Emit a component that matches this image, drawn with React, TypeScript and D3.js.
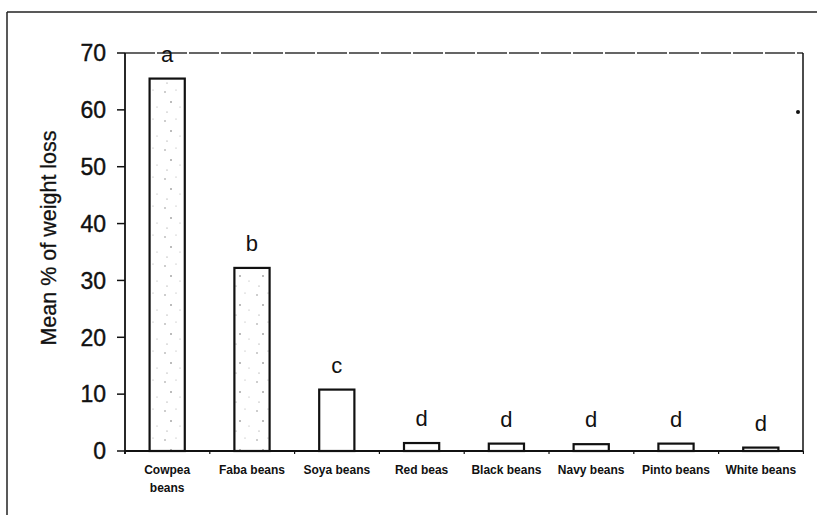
import React from 'react';
import * as d3 from 'd3';

const categories = ['Cowpea beans', 'Faba beans', 'Soya beans', 'Red beas', 'Black beans', 'Navy beans', 'Pinto beans', 'White beans'];
const meanLoss = [65.5, 32.2, 10.8, 1.4, 1.3, 1.2, 1.3, 0.6];
const groupLetters = ['a', 'b', 'c', 'd', 'd', 'd', 'd', 'd'];
const stippled = [true, true, false, false, false, false, false, false];
const yTicks = [0, 10, 20, 30, 40, 50, 60, 70];

const W = 817;
const H = 515;
const plot = { left: 125, right: 803, top: 53, bottom: 451 };
const font = '"Liberation Sans", Arial, Helvetica, sans-serif';

const App: React.FC = () => {
  const x = d3.scaleBand<string>().domain(categories).range([plot.left, plot.right]).paddingInner(0.585).paddingOuter(0.29);
  const y = d3.scaleLinear().domain([0, 70]).range([plot.bottom, plot.top]);

  // band boundaries for the small ticks under the baseline
  const step = x.step();
  const boundaries = d3.range(categories.length + 1).map(i => plot.left + i * step);

  return (
    <svg width={W} height={H} viewBox={`0 0 ${W} ${H}`} style={{ position: 'absolute', left: 0, top: 0, background: '#fff' }}>
      <defs>
        <pattern id="stipple" width="23" height="29" patternUnits="userSpaceOnUse">
          <rect width="23" height="29" fill="#fff" />
          <circle cx="4" cy="5" r="0.7" fill="#777" />
          <circle cx="15" cy="3" r="0.5" fill="#999" />
          <circle cx="10" cy="15" r="0.8" fill="#666" />
          <circle cx="19" cy="20" r="0.5" fill="#999" />
          <circle cx="6" cy="25" r="0.6" fill="#888" />
        </pattern>
      </defs>

      {/* outer figure frame */}
      <line x1={7} y1={12} x2={W} y2={12} stroke="#222" strokeWidth={1.5} />
      <line x1={7} y1={12} x2={7} y2={H} stroke="#222" strokeWidth={1.5} />

      {/* plot frame */}
      <line x1={plot.left} y1={plot.top} x2={plot.right} y2={plot.top} stroke="#333" strokeWidth={1.3} strokeDasharray="30,2" />
      <line x1={plot.right} y1={plot.top} x2={plot.right} y2={plot.bottom} stroke="#111" strokeWidth={1.5} />
      <line x1={plot.left} y1={plot.top} x2={plot.left} y2={plot.bottom + 3} stroke="#111" strokeWidth={1.8} />
      <line x1={plot.left} y1={plot.bottom} x2={plot.right} y2={plot.bottom} stroke="#111" strokeWidth={1.8} />

      {boundaries.map((b, i) => (
        <line key={`bt-${i}`} x1={b} y1={plot.bottom} x2={b} y2={plot.bottom + 3} stroke="#111" strokeWidth={1.2} />
      ))}

      {/* y ticks */}
      {yTicks.map(t => (
        <g key={`yt-${t}`}>
          <line x1={plot.left - 8} y1={y(t)} x2={plot.left} y2={y(t)} stroke="#111" strokeWidth={1.5} />
          <text x={106} y={y(t)} dy="0.36em" textAnchor="end" fontFamily={font} fontSize={23} fill="#111" stroke="#111" strokeWidth={0.4}>{t}</text>
        </g>
      ))}

      <text
        transform={`translate(56, 238) rotate(-90)`}
        textAnchor="middle"
        fontFamily={font}
        fontSize={21.5}
        fill="#111"
        stroke="#111"
        strokeWidth={0.3}
      >Mean % of weight loss</text>

      {/* bars */}
      {categories.map((c, i) => {
        const cx = (x(c) ?? 0) + x.bandwidth() / 2;
        const words = c.split(' ');
        return (
          <g key={c}>
            <rect
              x={x(c)}
              y={y(meanLoss[i])}
              width={x.bandwidth()}
              height={plot.bottom - y(meanLoss[i])}
              fill={stippled[i] ? 'url(#stipple)' : '#fff'}
              stroke="#111"
              strokeWidth={2.2}
            />
            <text x={cx} y={y(meanLoss[i]) - 17} textAnchor="middle" fontFamily={font} fontSize={22} fill="#111">
              {groupLetters[i]}
            </text>
            {i === 0 ? (
              <text x={cx} y={474} textAnchor="middle" fontFamily={font} fontSize={12} fontWeight={600} fill="#111">
                <tspan x={cx}>{words[0]}</tspan>
                <tspan x={cx} dy={18}>{words[1]}</tspan>
              </text>
            ) : (
              <text x={cx} y={474} textAnchor="middle" fontFamily={font} fontSize={12} fontWeight={600} fill="#111">
                {c}
              </text>
            )}
          </g>
        );
      })}

      <circle cx={798} cy={112} r={2} fill="#111" />
    </svg>
  );
};

export default App;
